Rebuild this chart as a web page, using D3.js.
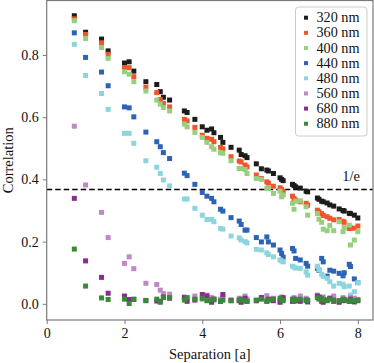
<!DOCTYPE html>
<html><head><meta charset="utf-8">
<script src="https://cdn.jsdelivr.net/npm/d3@7"></script>
<style>body{margin:0;background:#fff}svg{display:block}</style>
</head><body>
<svg id="c" width="374" height="363"></svg>
<script>
const separation = [0.71,1.00,1.41,1.58,2.00,2.12,2.24,2.55,2.83,2.92,3.00,3.16,3.54,3.61,3.81,4.00,4.12,4.24,4.30,4.47,4.53,4.74,4.95,5.00,5.10,5.15,5.39,5.52,5.66,5.70,5.83,6.00,6.04,6.08,6.32,6.36,6.40,6.52,6.67,6.71,6.96,7.00,7.07,7.11,7.21,7.28,7.38,7.52,7.62,7.65,7.78,7.81,7.91,8.00];
const c320 = [0.926,0.873,0.851,0.813,0.774,0.778,0.748,0.714,0.705,0.682,0.664,0.655,0.620,0.615,0.593,0.569,0.558,0.562,0.550,0.535,0.519,0.503,0.494,0.480,0.476,0.470,0.450,0.434,0.430,0.427,0.419,0.405,0.400,0.396,0.384,0.380,0.376,0.372,0.362,0.360,0.340,0.336,0.330,0.328,0.324,0.318,0.314,0.305,0.300,0.298,0.291,0.290,0.285,0.276];
const c360 = [0.916,0.866,0.839,0.802,0.759,0.759,0.730,0.696,0.679,0.657,0.644,0.633,0.593,0.588,0.567,0.542,0.532,0.529,0.521,0.503,0.498,0.473,0.459,0.456,0.446,0.440,0.414,0.403,0.392,0.388,0.378,0.373,0.368,0.360,0.346,0.338,0.333,0.328,0.323,0.317,0.301,0.296,0.290,0.284,0.280,0.275,0.270,0.271,0.265,0.262,0.242,0.244,0.243,0.250];
const c400 = [0.910,0.853,0.824,0.789,0.746,0.738,0.714,0.684,0.655,0.642,0.631,0.620,0.578,0.569,0.551,0.535,0.519,0.505,0.497,0.486,0.484,0.460,0.435,0.435,0.432,0.419,0.403,0.400,0.371,0.371,0.355,0.362,0.344,0.350,0.323,0.304,0.330,0.331,0.312,0.285,0.290,0.272,0.262,0.240,0.235,0.252,0.235,0.264,0.232,0.245,0.253,0.189,0.205,0.232];
const c440 = [0.871,0.792,0.745,0.701,0.633,0.630,0.601,0.552,0.521,0.505,0.486,0.467,0.420,0.412,0.384,0.358,0.346,0.339,0.328,0.304,0.298,0.277,0.266,0.255,0.237,0.237,0.213,0.199,0.215,0.199,0.189,0.173,0.162,0.150,0.178,0.170,0.146,0.141,0.130,0.121,0.114,0.108,0.146,0.135,0.089,0.108,0.105,0.098,0.090,0.100,0.127,0.120,0.080,0.068];
const c480 = [0.834,0.734,0.676,0.625,0.548,0.548,0.516,0.460,0.439,0.419,0.398,0.379,0.337,0.337,0.307,0.285,0.271,0.271,0.264,0.242,0.240,0.218,0.212,0.205,0.200,0.196,0.175,0.173,0.164,0.158,0.151,0.141,0.138,0.135,0.121,0.118,0.115,0.114,0.103,0.092,0.121,0.110,0.095,0.088,0.082,0.071,0.057,0.066,0.063,0.055,0.057,0.028,0.039,0.068];
const c560 = [0.571,0.382,0.294,0.213,0.130,0.151,0.113,0.066,0.062,0.044,0.033,0.031,0.022,0.018,0.025,0.015,0.028,0.020,0.012,0.015,0.022,0.010,0.018,0.012,0.025,0.015,0.010,0.020,0.026,0.014,0.018,0.010,0.022,0.016,0.012,0.020,0.015,0.025,0.018,0.010,0.028,0.020,0.015,0.022,0.012,0.018,0.025,0.010,0.020,0.015,0.012,0.020,0.018,0.014];
const c680 = [0.339,0.138,0.085,0.034,0.025,0.014,0.014,0.010,0.009,0.008,0.022,0.018,0.020,0.008,0.012,0.030,0.025,0.005,0.015,0.008,0.030,0.012,0.010,0.005,0.018,0.008,0.010,0.020,0.008,0.015,0.010,0.005,0.012,0.020,0.008,0.015,0.010,0.008,0.012,0.006,0.025,0.022,0.008,0.005,0.012,0.018,0.008,0.005,0.010,0.012,0.008,0.015,0.006,0.010];
const c880 = [0.176,0.057,0.019,0.014,0.015,0.001,0.015,0.011,0.015,0.005,0.020,0.020,0.012,0.020,0.015,0.018,0.010,0.012,0.015,0.008,0.012,0.010,0.012,0.015,0.010,0.008,0.012,0.015,0.010,0.012,0.015,0.018,0.012,0.010,0.015,0.008,0.012,0.015,0.010,0.012,0.020,0.015,0.018,0.012,0.010,0.015,0.012,0.010,0.015,0.012,0.008,0.012,0.010,0.012];
const seriesLabels = ["320 nm","360 nm","400 nm","440 nm","480 nm","560 nm","680 nm","880 nm"];
const seriesValues = [c320,c360,c400,c440,c480,c560,c680,c880];
const colors = ["#1c1c1c","#f2552c","#96cf7e","#2c63b6","#8dd5de","#bf88c6","#8b2b8f","#378a37"];
const xTicks = [0,2,4,6,8];
const yTicks = [0.0,0.2,0.4,0.6,0.8];
const oneOverE = Math.exp(-1);

const W=374,H=363;
const m={l:46.7,r:1,t:0.5,b:43};
const svg=d3.select("#c");
const x=d3.scaleLinear().domain([0,8.39]).range([m.l,W-m.r]);
const y=d3.scaleLinear().domain([-0.052,0.975]).range([H-m.b,m.t]);
const font="'Liberation Serif', 'DejaVu Serif', serif";

// dashed 1/e line
svg.append("line").attr("x1",x.range()[0]).attr("x2",x.range()[1])
  .attr("y1",y(oneOverE)).attr("y2",y(oneOverE))
  .attr("stroke","#000").attr("stroke-width",1.5).attr("stroke-dasharray","5.5,3");

const ms=5;
seriesValues.forEach((vals,i)=>{
  svg.append("g").selectAll("rect").data(vals).join("rect")
    .attr("x",(d,j)=>x(separation[j])-ms/2).attr("y",d=>y(d)-ms/2)
    .attr("width",ms).attr("height",ms).attr("fill",colors[i]);
});

// frame
svg.append("rect").attr("x",x.range()[0]).attr("y",y.range()[1])
  .attr("width",x.range()[1]-x.range()[0]).attr("height",y.range()[0]-y.range()[1])
  .attr("fill","none").attr("stroke","#7a7a7a").attr("stroke-width",1.2);

const xa=svg.append("g").attr("transform",`translate(0,${y.range()[0]})`)
  .call(d3.axisBottom(x).tickValues(xTicks).tickFormat(d3.format("d")).tickSize(4).tickPadding(4));
const ya=svg.append("g").attr("transform",`translate(${x.range()[0]},0)`)
  .call(d3.axisLeft(y).tickValues(yTicks).tickFormat(d3.format(".1f")).tickSize(4).tickPadding(4));
[xa,ya].forEach(a=>{
  a.select(".domain").remove();
  a.selectAll("line").attr("stroke","#7a7a7a").attr("stroke-width",1);
  a.selectAll("text").attr("font-family",font).attr("font-size",14).attr("fill","#111");
});

svg.append("text").attr("x",(x.range()[0]+x.range()[1])/2).attr("y",359)
  .attr("text-anchor","middle").attr("font-family",font).attr("font-size",14.5).attr("fill","#111")
  .text("Separation [a]");
svg.append("text").attr("transform",`translate(13,${(y.range()[0]+y.range()[1])/2}) rotate(-90)`)
  .attr("text-anchor","middle").attr("font-family",font).attr("font-size",14.5).attr("fill","#111")
  .text("Correlation");

svg.append("text").attr("x",360).attr("y",181).attr("text-anchor","end")
  .attr("font-family",font).attr("font-size",14.5).attr("fill","#111").text("1/e");

// legend
const lg=svg.append("g");
lg.append("rect").attr("x",295.5).attr("y",7).attr("width",71.5).attr("height",129).attr("rx",3)
  .attr("fill","#fff").attr("fill-opacity",0.85).attr("stroke","#cccccc").attr("stroke-width",1);
seriesLabels.forEach((lab,i)=>{
  const cy=17.7+i*15.15;
  lg.append("rect").attr("x",306-2).attr("y",cy-2).attr("width",4).attr("height",4).attr("fill",colors[i]);
  lg.append("text").attr("x",316.5).attr("y",cy+4.5).attr("font-family",font).attr("font-size",14.2)
    .attr("fill","#111").text(lab);
});
</script>
</body></html>
